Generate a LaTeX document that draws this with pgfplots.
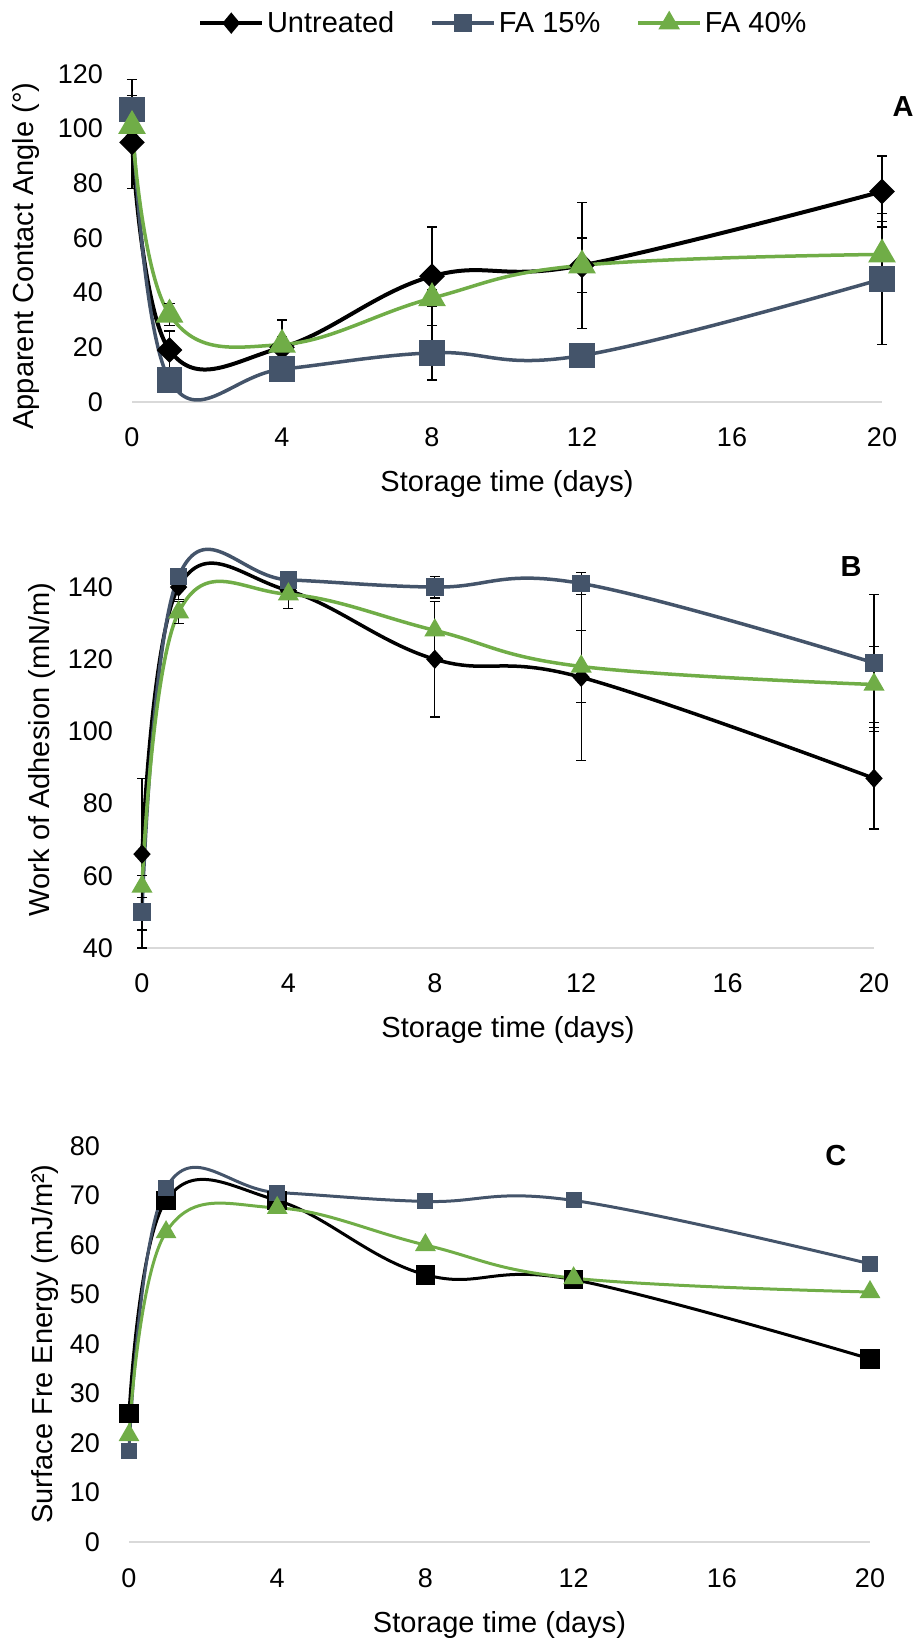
\documentclass[border=0pt]{standalone}
\usepackage{fontspec}
\setmainfont{Liberation Sans}
\usepackage{pgfplots}
\pgfplotsset{compat=1.18}

\definecolor{fablue}{HTML}{44546A}
\definecolor{fagreen}{HTML}{70AD47}
\definecolor{axgray}{HTML}{D9D9D9}

\newcommand{\tickfont}{\fontsize{27bp}{30bp}\selectfont}
\newcommand{\labfont}{\fontsize{29bp}{33bp}\selectfont}

\tikzset{letter/.style={font=\fontsize{29bp}{33bp}\selectfont\bfseries, anchor=center}}

\pgfplotsset{
  panel/.style={
    scale only axis, clip=false,
    xmin=0, xmax=20, xtick={0,4,...,20},
    axis lines*=left,
    x axis line style={draw=axgray, line width=2bp},
    y axis line style={draw=none},
    major tick length=0pt,
    /pgf/number format/assume math mode=true,
    tick label style={font=\tickfont, inner sep=0pt},
    xticklabel style={anchor=base, yshift=-45bp},
    yticklabel style={anchor=east, xshift=-29bp},
    xlabel={Storage time (days)},
    xlabel style={at={(axis description cs:0.5,0)}, anchor=base,
      yshift=-90bp, inner sep=0pt, font=\labfont},
    ylabel style={anchor=base, inner sep=0pt, font=\labfont},
  },
  errs/.style={
    error bars/y dir=both, error bars/y explicit,
    error bars/error bar style={black, line width=1.3bp, solid},
    error bars/error mark options={rotate=90, black, line width=1.3bp, mark size=5bp}},
}

\begin{document}
\begin{tikzpicture}
\useasboundingbox (0,0) rectangle (919bp,1640bp);

% ---------- A: contact angle ----------
\begin{axis}[panel,
  at={(132bp,1238bp)}, anchor=south west,
  width=750bp, height=328bp,
  ymin=0, ymax=120, ytick={0,20,...,120},
  ylabel={Apparent Contact Angle (°)},
  ylabel style={at={(axis description cs:-0.131,0.445)}},
  legend style={at={(axis description cs:0.496,1.155)}, anchor=center,
    draw=none, fill=none, legend columns=3, font=\labfont,
    nodes={inner sep=3bp},
    /tikz/every even column/.append style={column sep=33bp}},
  legend image code/.code={\draw[mark repeat=2,mark phase=2]
    plot coordinates {(0bp,0bp) (31bp,0bp) (62bp,0bp)};},
]
\addlegendimage{black, line width=3.5bp, mark=diamond*, mark size=8bp, mark options={xscale=1.1}}
\addlegendentry{Untreated}
\addlegendimage{fablue, line width=3.5bp, mark=square*, mark size=7.5bp}
\addlegendentry{FA 15\%}
\addlegendimage{fagreen, line width=3.5bp, mark=triangle*, mark size=9bp}
\addlegendentry{FA 40\%}

\addplot[black, line width=4bp, smooth, tension=0.67, mark=diamond*,
  mark size=10bp, mark options={xscale=1.33}, forget plot, errs]
  coordinates {(0,95) +- (0,17) (1,19) +- (0,7) (4,20) +- (0,10)
               (8,46) +- (0,18) (12,50) +- (0,23) (20,77) +- (0,13)};
\addplot[fablue, line width=3.5bp, smooth, tension=0.67, mark=square*,
  mark size=11bp, forget plot, errs]
  coordinates {(0,107) +- (0,11) (1,8) +- (0,3) (4,12) +- (0,4)
               (8,18) +- (0,10) (12,17) +- (0,3) (20,45) +- (0,24)};
\addplot[fagreen, line width=3.5bp, smooth, tension=0.67, mark=triangle*,
  mark size=12.5bp, forget plot, errs]
  coordinates {(0,101) +- (0,5) (1,32) +- (0,4) (4,21) +- (0,3)
               (8,38) +- (0,3) (12,50) +- (0,10) (20,54) +- (0,12)};
\node[letter] at (axis description cs:1.028,0.902) {A};
\end{axis}

% ---------- B: work of adhesion ----------
\begin{axis}[panel,
  at={(142bp,692bp)}, anchor=south west,
  width=732bp, height=397bp,
  ymin=40, ymax=150, ytick={40,60,...,140},
  ylabel={Work of Adhesion (mN/m)},
  ylabel style={at={(axis description cs:-0.127,0.5)}},
]
\addplot[black, line width=3.5bp, smooth, tension=0.67, mark=diamond*,
  mark size=7bp, mark options={xscale=1.2}, errs]
  coordinates {(0,66) +- (0,21) (1,140) +- (0,3.5) (4,139) +- (0,2)
               (8,120) +- (0,16) (12,115) +- (0,23) (20,87) +- (0,14)};
\addplot[fablue, line width=3.5bp, smooth, tension=0.67, mark=square*,
  mark size=7bp, errs]
  coordinates {(0,50) +- (0,10) (1,143) +- (0,2) (4,142) +- (0,1)
               (8,140) +- (0,3) (12,141) +- (0,3) (20,119) +- (0,19)};
\addplot[fagreen, line width=3.5bp, smooth, tension=0.67, mark=triangle*,
  mark size=8.7bp, errs]
  coordinates {(0,57) +- (0,3) (1,133) +- (0,3) (4,138) +- (0,4)
               (8,128) +- (0,8) (12,118) +- (0,10) (20,113) +- (0,10.5)};
\node[letter] at (axis description cs:0.9686,0.960) {B};
\end{axis}

% ---------- C: surface free energy ----------
\begin{axis}[panel,
  at={(129bp,98bp)}, anchor=south west,
  width=741bp, height=396bp,
  ymin=0, ymax=80, ytick={0,10,...,80},
  ylabel={Surface Fre Energy (mJ/m²)},
  ylabel style={at={(axis description cs:-0.1026,0.5)}},
]
\addplot[black, line width=3bp, smooth, tension=0.67, mark=square*,
  mark size=8.3bp]
  coordinates {(0,26) (1,69) (4,69) (8,54) (12,53) (20,37)};
\addplot[fablue, line width=3bp, smooth, tension=0.67, mark=square*,
  mark size=6.5bp]
  coordinates {(0,18.4) (1,71.5) (4,70.6) (8,68.8) (12,69) (20,56.2)};
\addplot[fagreen, line width=3bp, smooth, tension=0.67, mark=triangle*,
  mark size=9bp]
  coordinates {(0,21.6) (1,62.6) (4,67.5) (8,60) (12,53.3) (20,50.5)};
\node[letter] at (axis description cs:0.954,0.977) {C};
\end{axis}
\end{tikzpicture}
\end{document}
